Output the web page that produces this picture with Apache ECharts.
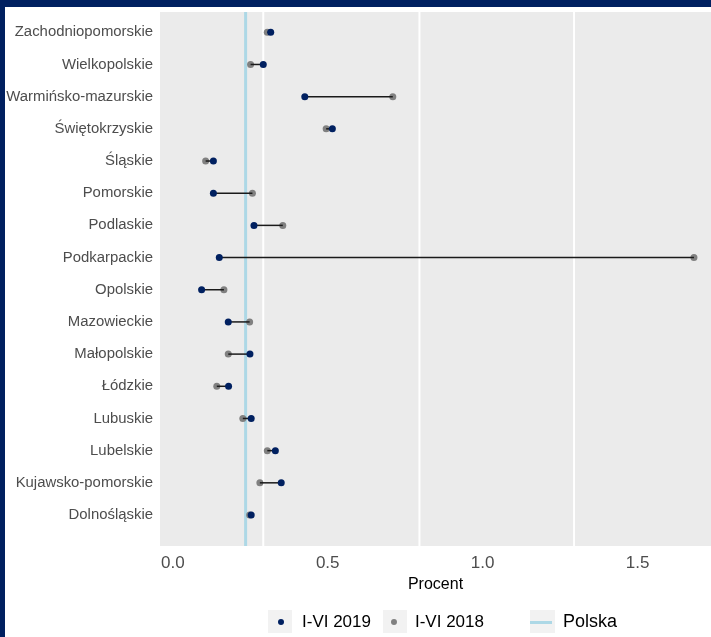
<!DOCTYPE html>
<html>
<head>
<meta charset="utf-8">
<script src="https://cdn.jsdelivr.net/npm/echarts@6/dist/echarts.min.js"></script>
<style>html,body{margin:0;padding:0;background:#fff;}#c{width:711px;height:637px;}</style>
</head>
<body>
<div id="c"></div>
<script>
const categories = ['Zachodniopomorskie','Wielkopolskie','Warmińsko-mazurskie','Świętokrzyskie','Śląskie','Pomorskie','Podlaskie','Podkarpackie','Opolskie','Mazowieckie','Małopolskie','Łódzkie','Lubuskie','Lubelskie','Kujawsko-pomorskie','Dolnośląskie'];
const values2019 = [0.316,0.292,0.426,0.515,0.131,0.131,0.262,0.150,0.093,0.179,0.249,0.180,0.253,0.331,0.350,0.253];
const values2018 = [0.305,0.251,0.710,0.495,0.106,0.257,0.355,1.682,0.165,0.248,0.179,0.142,0.226,0.305,0.281,0.248];
const polska = 0.235;
const xTicks = [0, 0.5, 1, 1.5];
const gridValues = [0.292, 0.796, 1.295];
const xRange = [-0.0413, 1.737];

const NAVY = '#002060', GREY = '#808080', BLUE = '#ADD8E6';
const FONT = "'Liberation Sans', Arial, sans-serif";

const vline = (color, width) => (params, api) => {
  const a = api.coord([api.value(0), 0]);
  const b = api.coord([api.value(0), 1]);
  return {type: 'line', shape: {x1: a[0], y1: a[1], x2: b[0], y2: b[1]}, style: {stroke: color, lineWidth: width}};
};

const chart = echarts.init(document.getElementById('c'), null, {renderer: 'canvas'});
chart.setOption({
  animation: false,
  textStyle: {fontFamily: FONT},
  graphic: [
    {type: 'rect', shape: {x: 0, y: 0, width: 711, height: 7}, style: {fill: NAVY}, z: 100},
    {type: 'rect', shape: {x: 0, y: 0, width: 5, height: 637}, style: {fill: NAVY}, z: 100},
    {type: 'rect', shape: {x: 268, y: 610, width: 24, height: 23}, style: {fill: '#F2F2F2'}, z: -1},
    {type: 'rect', shape: {x: 383, y: 610, width: 24, height: 23}, style: {fill: '#F2F2F2'}, z: -1},
    {type: 'rect', shape: {x: 530, y: 610, width: 25, height: 23}, style: {fill: '#F2F2F2'}, z: -1}
  ],
  grid: [
    {left: 160, right: 0, top: 12, bottom: 91, show: true, backgroundColor: '#EBEBEB', borderWidth: 0, containLabel: false},
    {left: 160, right: 0, top: 16.2, height: 514.9, show: false, containLabel: false}
  ],
  xAxis: [
    {type: 'value', gridIndex: 0, min: xRange[0], max: xRange[1],
     axisLine: {show: false}, axisTick: {show: false}, splitLine: {show: false},
     axisLabel: {customValues: xTicks, formatter: v => v.toFixed(1), fontSize: 17, color: '#4D4D4D', margin: 9, fontFamily: FONT},
     name: 'Procent', nameLocation: 'middle', nameGap: 25.5,
     nameTextStyle: {fontSize: 16, color: '#000', fontFamily: FONT}},
    {type: 'value', gridIndex: 1, min: xRange[0], max: xRange[1], show: false, splitLine: {show: false}}
  ],
  yAxis: [
    {type: 'value', gridIndex: 0, min: 0, max: 1, show: false, splitLine: {show: false}},
    {type: 'category', gridIndex: 1, data: categories, inverse: true,
     axisLine: {show: false}, axisTick: {show: false}, splitLine: {show: false},
     axisLabel: {fontSize: 14.9, color: '#4D4D4D', margin: 7, interval: 0, fontFamily: FONT}}
  ],
  legend: [
    {left: 278, top: 612, padding: 0, orient: 'horizontal', itemWidth: 6, itemHeight: 6, itemGap: 20,
     data: [{name: 'I-VI 2019', icon: 'circle'}, {name: 'I-VI 2018', icon: 'circle'}],
     textStyle: {fontSize: 17, color: '#000', padding: [0, 0, 0, 13], lineHeight: 20, fontFamily: FONT},
     selectedMode: false},
    {left: 530, top: 612.5, padding: 0, itemWidth: 22, itemHeight: 3, symbolKeepAspect: false,
     data: [{name: 'Polska', icon: 'rect'}],
     textStyle: {fontSize: 18, color: '#000', padding: [0, 0, 0, 6], lineHeight: 20, fontFamily: FONT},
     selectedMode: false}
  ],
  series: [
    {type: 'custom', name: 'grid', xAxisIndex: 0, yAxisIndex: 0, z: 1, silent: true,
     data: gridValues.map(v => [v]), encode: {x: 0},
     renderItem: vline('#FFFFFF', 2)},
    {type: 'custom', name: 'Polska', xAxisIndex: 0, yAxisIndex: 0, z: 2, silent: true,
     data: [[polska]], encode: {x: 0}, itemStyle: {color: BLUE},
     renderItem: vline(BLUE, 3)},
    {type: 'scatter', name: 'I-VI 2018', xAxisIndex: 1, yAxisIndex: 1, z: 3,
     data: values2018.map((v, i) => [v, categories[i]]),
     symbol: 'circle', symbolSize: 7, itemStyle: {color: GREY, opacity: 1}},
    {type: 'custom', name: 'seg', xAxisIndex: 1, yAxisIndex: 1, z: 4, silent: true,
     data: categories.map((c, i) => [values2019[i], values2018[i], i]),
     encode: {x: [0, 1], y: 2},
     renderItem: (params, api) => {
       const a = api.coord([api.value(0), api.value(2)]);
       const b = api.coord([api.value(1), api.value(2)]);
       return {type: 'line', shape: {x1: a[0], y1: a[1], x2: b[0], y2: b[1]}, style: {stroke: '#1A1A1A', lineWidth: 1.5}};
     }},
    {type: 'scatter', name: 'I-VI 2019', xAxisIndex: 1, yAxisIndex: 1, z: 5,
     data: values2019.map((v, i) => [v, categories[i]]),
     symbol: 'circle', symbolSize: 7, itemStyle: {color: NAVY, opacity: 1}}
  ]
});
</script>
</body>
</html>
